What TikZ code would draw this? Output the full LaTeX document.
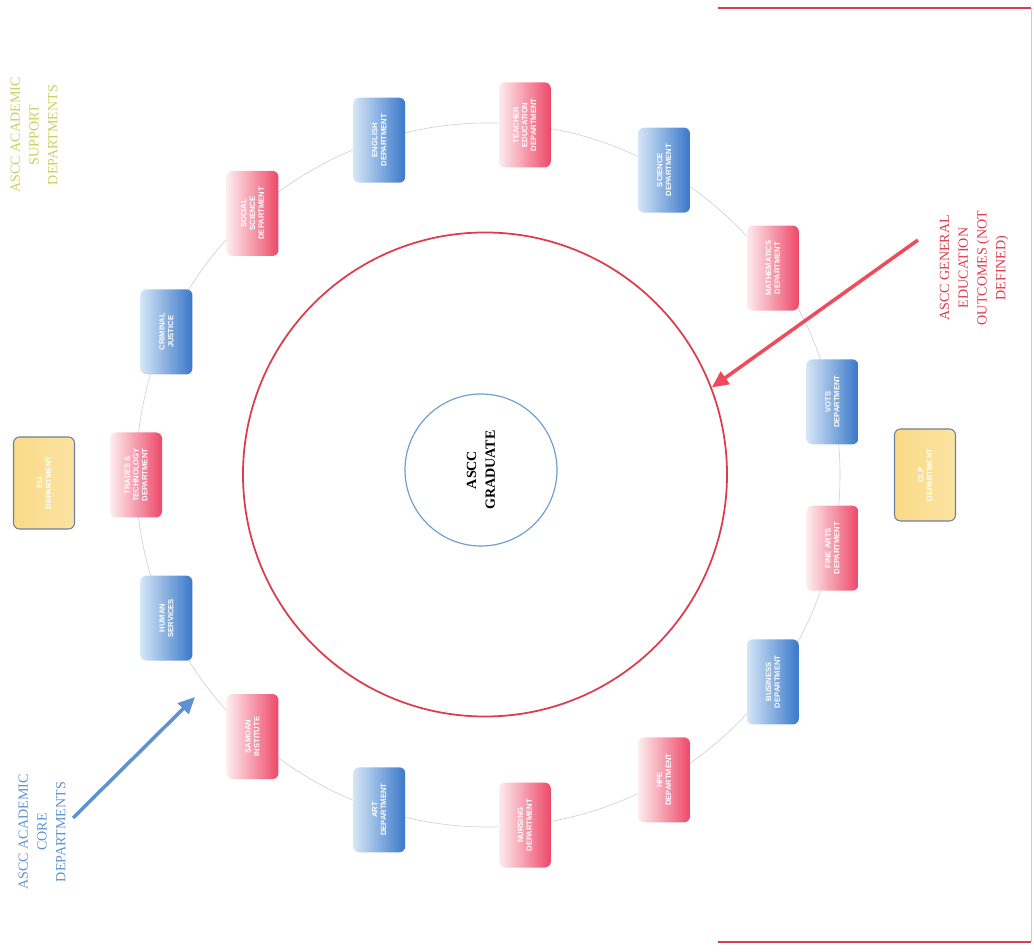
\documentclass[tikz,border=0pt]{standalone}
\usepackage{fontspec}
\setmainfont{Liberation Serif}
\setsansfont{Liberation Sans}
\usetikzlibrary{arrows.meta}

\begin{document}
\begin{tikzpicture}[x=0.03cm, y=0.03cm]
    \definecolor{redLine}{HTML}{DC3C4C}
    \definecolor{redArrow}{HTML}{EE4C5C}
    \definecolor{redLight}{HTML}{FDEDF0}
    \definecolor{redDark}{HTML}{EE4868}
    \definecolor{blueLight}{HTML}{D5E6F7}
    \definecolor{blueDark}{HTML}{3A78C9}
    \definecolor{blueLine}{HTML}{6E9DD2}
    \definecolor{blueText}{HTML}{5E92D0}
    \definecolor{yellowFill}{HTML}{F9DA86}
    \definecolor{yellowLight}{HTML}{FBE3A2}
    \definecolor{yellowBorder}{HTML}{6D7F9E}
    \definecolor{supportText}{HTML}{C9CF62}
    \definecolor{ringGrey}{HTML}{CCCCD6}

    \def\ringRadius{352}

    \tikzset{
        deptbox/.style={rectangle, rounded corners=0.18cm, minimum width=2.55cm,
            minimum height=1.56cm, rotate=90, align=center, text=white, inner sep=1pt,
            font=\sffamily\bfseries\fontsize{6.5}{7.5}\selectfont},
        coreRed/.style={deptbox, left color=redLight, right color=redDark},
        coreBlue/.style={deptbox, left color=blueLight, right color=blueDark},
        supportBox/.style={deptbox, minimum width=2.76cm, minimum height=1.83cm,
            left color=yellowFill, right color=yellowLight, draw=yellowBorder, line width=0.9pt},
        sideLabel/.style={rotate=90, align=center, font=\fontsize{12}{16}\selectfont}
    }

    \useasboundingbox (0,0) rectangle (1034,952);

    % Frame on the right
    \draw[redLine, line width=2.4pt] (718,944) -- (1031,944);
    \draw[redLine, line width=2.4pt] (718,10) -- (1031,10);
    \draw[ringGrey, line width=0.6pt] (1031,944) -- (1031,10);

    % Centre of the ring
    \coordinate (O) at (488,477);

    % Ring of departments
    \draw[ringGrey, line width=0.5pt] (O) circle (\ringRadius);

    % Outcomes circle and graduate
    \node[circle, draw=redLine, line width=1.5pt, minimum size=14.52cm, inner sep=0pt] (Q) at (485,477.5) {};
    \node[circle, draw=blueLine, line width=1pt, minimum size=4.56cm, inner sep=0pt,
        rotate=90, align=center, font=\bfseries\fontsize{12}{16}\selectfont] (G) at (481,482) {ASCC\\GRADUATE};

    % Core departments
    \foreach \i/\a/\s/\t in {
        1/12/coreBlue/VOTS\\DEPARTMENT,
        2/36/coreRed/MATHEMATICS\\DEPARTMENT,
        3/60/coreBlue/SCIENCE\\DEPARTMENT,
        4/84/coreRed/TEACHER\\EDUCATION\\DEPARTMENT,
        5/108/coreBlue/ENGLISH\\DEPARTMENT,
        6/132/coreRed/SOCIAL\\SCIENCE\\DEPARTMENT,
        7/156/coreBlue/CRIMINAL\\JUSTICE,
        8/180/coreRed/TRADES \&\\TECHNOLOGY\\DEPARTMENT,
        9/204/coreBlue/HUMAN\\SERVICES,
        10/228/coreRed/SAMOAN\\INSTITUTE,
        11/252/coreBlue/ART\\DEPARTMENT,
        12/276/coreRed/NURSING\\DEPARTMENT,
        13/300/coreRed/HPE\\DEPARTMENT,
        14/324/coreBlue/BUSINESS\\DEPARTMENT,
        15/348/coreRed/FINE ARTS\\DEPARTMENT}
        \path (O) ++(\a:\ringRadius) node[\s] (D\i) {\t};

    % Support departments
    \node[supportBox] (S1) at (925,477) {CLP\\DEPARTMENT};
    \node[supportBox] (S2) at (44,469) {ELI\\DEPARTMENT};

    % Labels
    \node[sideLabel, text=redLine] (L1) at (974,684) {ASCC GENERAL\\EDUCATION\\OUTCOMES (NOT\\DEFINED)};
    \node[sideLabel, text=blueText] (L2) at (42,120) {ASCC ACADEMIC\\CORE\\DEPARTMENTS};
    \node[sideLabel, text=supportText] (L3) at (34,817) {ASCC ACADEMIC\\SUPPORT\\DEPARTMENTS};

    % Arrows
    \coordinate (R) at (918,712);
    \draw[redArrow, line width=3pt, -{Triangle[length=0.5cm, width=0.45cm]}] (R) -- (Q.21);
    \coordinate (B1) at (73,134);
    \coordinate (B2) at (195,255);
    \draw[blueText, line width=3pt, -{Triangle[length=0.5cm, width=0.45cm]}] (B1) -- (B2);

\end{tikzpicture}
\end{document}
